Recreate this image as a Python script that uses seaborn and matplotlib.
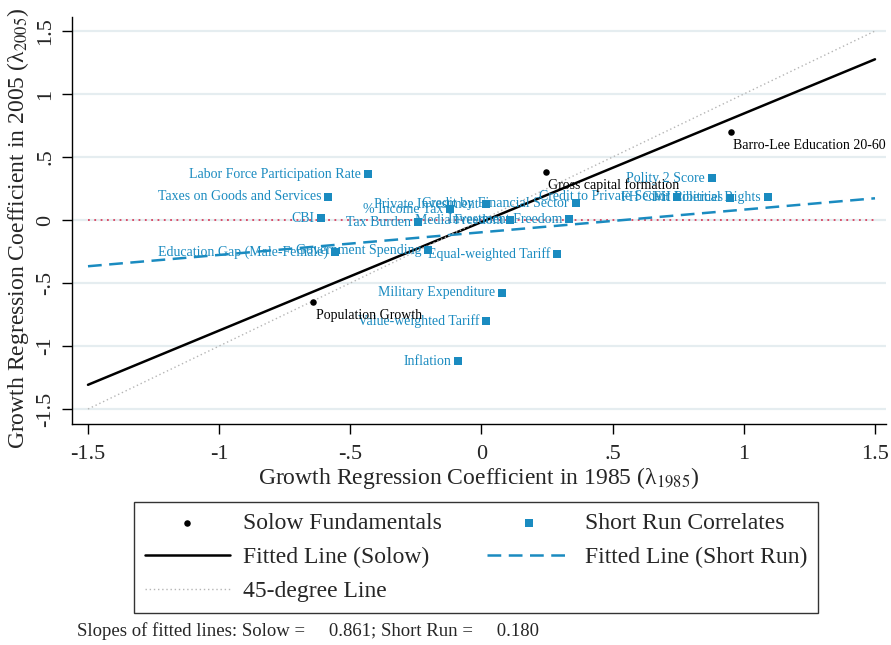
import numpy as np
import pandas as pd
import matplotlib
matplotlib.use("Agg")
import matplotlib.pyplot as plt
import seaborn as sns

# Solow fundamentals: coefficient in 1985 vs 2005
solow_names = ["Barro-Lee Education 20-60", "Gross capital formation", "Population Growth"]
solow_1985 = [0.950, 0.244, -0.641]
solow_2005 = [0.698, 0.381, -0.651]

# short run correlates
sr_names = ["Labor Force Participation Rate", "Taxes on Goods and Services", "CBI",
            "Education Gap (Male-Female)", "Government Spending", "Equal-weighted Tariff",
            "Military Expenditure", "Value-weighted Tariff", "Inflation",
            "Polity 2 Score", "FH Political Rights", "FH Civil Liberties",
            "Credit to Private Sector", "Credit by Financial Sector", "Private Investment",
            "% Income Tax", "Tax Burden", "Media Freedom", "Investment Freedom"]
sr_1985 = [-0.433, -0.585, -0.612, -0.559, -0.204, 0.288, 0.078, 0.017, -0.090,
           0.879, 1.092, 0.947, 0.745, 0.360, 0.017, -0.120, -0.242, 0.109, 0.334]
sr_2005 = [0.365, 0.183, 0.016, -0.254, -0.238, -0.270, -0.579, -0.802, -1.119,
           0.333, 0.182, 0.175, 0.183, 0.135, 0.127, 0.087, -0.016, 0.000, 0.008]

ticks = [-1.5, -1, -0.5, 0, 0.5, 1, 1.5]
tick_labels = ["-1.5", "-1", "-.5", "0", ".5", "1", "1.5"]

BLUE = "#1a8bc0"

solow = pd.DataFrame({"x": solow_1985, "y": solow_2005, "name": solow_names})
shortrun = pd.DataFrame({"x": sr_1985, "y": sr_2005, "name": sr_names})

sns.set_style("ticks")
plt.rcParams["font.family"] = ["Liberation Serif", "DejaVu Serif"]
plt.rcParams["mathtext.fontset"] = "stix"

fig = plt.figure(figsize=(8.91, 6.45), dpi=100)
ax = fig.add_axes([0.0808, 0.3426, 0.9136, 0.631])

# fitted lines
xs = np.array([-1.5, 1.5])
b_s, a_s = np.polyfit(solow.x, solow.y, 1)
b_r, a_r = np.polyfit(shortrun.x, shortrun.y, 1)

ax.yaxis.grid(True, color="#e5edf0", lw=1.6)
ax.set_axisbelow(True)

ax.hlines(0, -1.5, 1.5, color="#d8405e", lw=1.3, linestyles=(0, (1, 2.5)), zorder=1)

sns.scatterplot(data=solow, x="x", y="y", color="black", s=22, linewidth=0,
                label="Solow Fundamentals", ax=ax, zorder=3)
sns.scatterplot(data=shortrun, x="x", y="y", color=BLUE, marker="s", s=26, linewidth=0,
                label="Short Run Correlates", ax=ax, zorder=3)

sns.lineplot(x=xs, y=a_s + b_s * xs, color="black", lw=1.8, label="Fitted Line (Solow)", ax=ax)
sns.lineplot(x=xs, y=a_r + b_r * xs, color=BLUE, lw=1.8, label="Fitted Line (Short Run)", ax=ax)
ax.lines[-1].set_dashes([5.5, 3])
sns.lineplot(x=xs, y=xs, color="#b5b5b5", lw=1.0, label="45-degree Line", ax=ax)
ax.lines[-1].set_dashes([1, 2])

for _, r in shortrun.iterrows():
    ax.annotate(r["name"], (r.x, r.y), xytext=(-5, 0), textcoords="offset points",
                ha="right", va="center", color=BLUE, fontsize=10)
for _, r in solow.iterrows():
    ax.annotate(r["name"], (r.x, r.y), xytext=(2, -9.5), textcoords="offset points",
                ha="left", va="center", color="black", fontsize=10)

ax.set_xlim(-1.561, 1.542)
ax.set_ylim(-1.619, 1.611)
ax.set_xticks(ticks)
ax.set_xticklabels(tick_labels, fontsize=16)
ax.set_yticks(ticks)
ax.set_yticklabels(tick_labels, fontsize=16, rotation=90, va="center")
ax.tick_params(length=7, width=1, color="black", pad=5)
ax.tick_params(axis="x", pad=8)
ax.set_xlabel("")
ax.set_ylabel("")
sns.despine(ax=ax)
for sp in ["left", "bottom"]:
    ax.spines[sp].set_color("black")
    ax.spines[sp].set_linewidth(1.0)

fig.text(479 / 891, 1 - 478 / 645, "Growth Regression Coefficient in 1985 (λ$_{1985}$)",
         ha="center", va="center", fontsize=17)
fig.text(18 / 891, 1 - 228 / 645, "Growth Regression Coefficient in 2005 (λ$_{2005}$)",
         ha="center", va="center", rotation=90, fontsize=17)

handles, labels = ax.get_legend_handles_labels()
ax.get_legend().remove()
order = ["Solow Fundamentals", "Fitted Line (Solow)", "45-degree Line",
         "Short Run Correlates", "Fitted Line (Short Run)"]
hmap = dict(zip(labels, handles))
leg = fig.legend([hmap[k] for k in order], order, ncol=2, loc="upper center",
                 bbox_to_anchor=(476 / 891, 1 - 502 / 645),
                 borderaxespad=0, fontsize=17, frameon=True, fancybox=False,
                 edgecolor="black", handlelength=3.6, handletextpad=0.55,
                 labelspacing=0.53, borderpad=0.45, columnspacing=1.9, scatterpoints=1)
leg.get_frame().set_linewidth(1.0)

fig.text(77 / 891, 1 - 631 / 645,
         "Slopes of fitted lines: Solow =     0.861; Short Run =     0.180",
         ha="left", va="center", fontsize=13.5)

fig.savefig("out.png", dpi=100)
